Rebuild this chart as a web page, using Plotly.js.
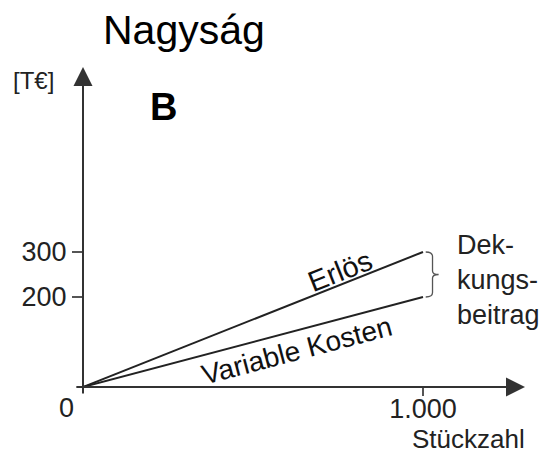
<!DOCTYPE html>
<html>
<head>
<meta charset="utf-8">
<script src="https://cdn.plot.ly/plotly-3.0.1.min.js"></script>
<style>html,body{margin:0;padding:0;background:#fff;}#chart{width:549px;height:453px;}</style>
</head>
<body>
<div id="chart"></div>
<script>
// ---- data ----
var stueckzahl = [0, 1000];
var erloes = [0, 300];
var variableKosten = [0, 200];
var xTickVals = [1000];
var xTickText = ['1.000'];
var yTickVals = [200, 300];
var yTickText = ['200', '300'];

// ---- layout geometry ----
var W = 549, H = 453;
var M = {l: 83, r: 24, t: 67, b: 66};
var xRange = [0, 1300];
var yRange = [0, 711];
var pw = W - M.l - M.r, ph = H - M.t - M.b;
function px(xp) { return (xp - M.l) / pw; }          // pixel -> paper x
function py(yp) { return (H - M.b - yp) / ph; }      // pixel -> paper y
function sx(v) { return v * pw / (xRange[1] - xRange[0]); }
function sy(v) { return v * ph / (yRange[1] - yRange[0]); }

var FONT = 'Liberation Sans, Arial, Helvetica, sans-serif';
var lineCol = '#222';
var axisCol = '#333';

var traces = [
  {x: stueckzahl, y: erloes, type: 'scatter', mode: 'lines', name: 'Erlös',
   line: {color: lineCol, width: 2}, hoverinfo: 'skip'},
  {x: stueckzahl, y: variableKosten, type: 'scatter', mode: 'lines', name: 'Variable Kosten',
   line: {color: lineCol, width: 2}, hoverinfo: 'skip'}
];

var angE = -Math.atan2(sy(erloes[1]), sx(stueckzahl[1])) * 180 / Math.PI;
var angK = -Math.atan2(sy(variableKosten[1]), sx(stueckzahl[1])) * 180 / Math.PI;

var xEnd = stueckzahl[1];
var bTop = erloes[1], bBot = variableKosten[1], bMid = (bTop + bBot) / 2;
var bx0 = xEnd + 8, bx1 = xEnd + 28, bx2 = xEnd + 46;
var bracePath = 'M ' + bx0 + ',' + bTop +
  ' Q ' + bx1 + ',' + bTop + ' ' + bx1 + ',' + (bTop - 10) +
  ' L ' + bx1 + ',' + (bMid + 8) +
  ' Q ' + bx1 + ',' + bMid + ' ' + bx2 + ',' + bMid +
  ' Q ' + bx1 + ',' + bMid + ' ' + bx1 + ',' + (bMid - 8) +
  ' L ' + bx1 + ',' + (bBot + 10) +
  ' Q ' + bx1 + ',' + bBot + ' ' + bx0 + ',' + bBot;

var annotations = [
  // axes with arrowheads
  {x: 0, y: yRange[1], xref: 'x', yref: 'y', ax: 0, ay: -18, axref: 'x', ayref: 'y',
   text: '', showarrow: true, arrowhead: 2, arrowsize: 1.9, arrowwidth: 2, arrowcolor: axisCol, standoff: 0},
  {x: xRange[1], y: 0, xref: 'x', yref: 'y', ax: -24, ay: 0, axref: 'x', ayref: 'y',
   text: '', showarrow: true, arrowhead: 2, arrowsize: 1.9, arrowwidth: 2, arrowcolor: axisCol, standoff: 0},
  // labels
  {xref: 'paper', yref: 'paper', x: px(11), y: py(81), xanchor: 'left', yanchor: 'middle',
   text: '[T€]', showarrow: false, font: {family: FONT, size: 24, color: '#222'}},
  {xref: 'paper', yref: 'paper', x: px(163), y: py(107), xanchor: 'center', yanchor: 'middle',
   text: '<b>B</b>', showarrow: false, font: {family: FONT, size: 38, color: '#000'}},
  {xref: 'paper', yref: 'paper', x: px(66), y: py(408), xanchor: 'center', yanchor: 'middle',
   text: '0', showarrow: false, font: {family: FONT, size: 27, color: '#222'}},
  {xref: 'paper', yref: 'paper', x: px(468), y: py(439), xanchor: 'center', yanchor: 'middle',
   text: 'Stückzahl', showarrow: false, font: {family: FONT, size: 26, color: '#222'}},
  {xref: 'paper', yref: 'paper', x: px(455), y: py(280), xanchor: 'left', yanchor: 'middle', align: 'left',
   text: 'Dek-<br>kungs-<br>beitrag', showarrow: false, font: {family: FONT, size: 27, color: '#222'}},
  {xref: 'paper', yref: 'paper', x: px(340), y: py(271), xanchor: 'center', yanchor: 'middle',
   text: 'Erlös', textangle: angE, showarrow: false, font: {family: FONT, size: 29, color: '#111'}},
  {xref: 'paper', yref: 'paper', x: px(297), y: py(350), xanchor: 'center', yanchor: 'middle',
   text: 'Variable Kosten', textangle: angK, showarrow: false, font: {family: FONT, size: 28, color: '#111'}}
];

var layout = {
  width: W, height: H,
  margin: M,
  paper_bgcolor: '#fff', plot_bgcolor: '#fff',
  showlegend: false,
  title: {text: 'Nagyság', xref: 'container', yref: 'container', x: 103 / W, xanchor: 'left',
          y: 1 - 30 / H, yanchor: 'middle', font: {family: FONT, size: 41, color: '#000'}},
  xaxis: {range: xRange, showgrid: false, zeroline: false, showline: false,
          tickvals: xTickVals, ticktext: xTickText, ticks: 'outside', ticklen: 8, tickwidth: 2,
          ticklabelstandoff: -10,
          tickcolor: '#555', tickfont: {family: FONT, size: 27, color: '#222'}, fixedrange: true},
  yaxis: {range: yRange, showgrid: false, zeroline: false, showline: false,
          tickvals: yTickVals, ticktext: yTickText, ticks: 'outside', ticklen: 10, tickwidth: 2,
          tickcolor: '#555', tickfont: {family: FONT, size: 27, color: '#222'}, fixedrange: true},
  shapes: [
    {type: 'path', xref: 'x', yref: 'y', path: bracePath, line: {color: '#555', width: 1.3}}
  ],
  annotations: annotations
};

Plotly.newPlot('chart', traces, layout, {staticPlot: true, displayModeBar: false});
</script>
</body>
</html>
